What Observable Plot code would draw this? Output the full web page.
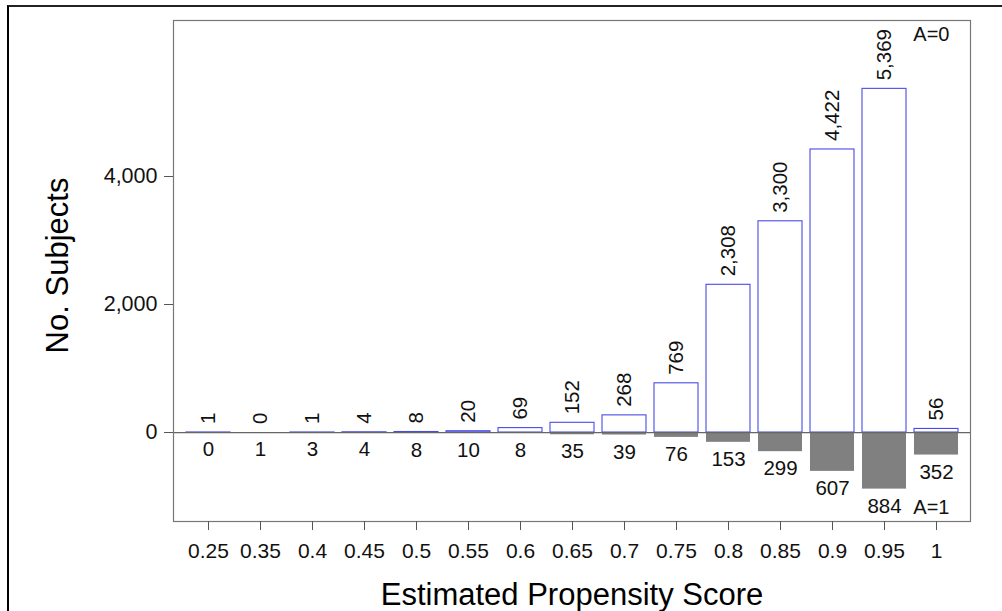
<!DOCTYPE html>
<html>
<head>
<meta charset="utf-8">
<script src="https://cdn.jsdelivr.net/npm/d3@7"></script>
<script src="https://cdn.jsdelivr.net/npm/@observablehq/plot@0.6"></script>
<style>
  html, body { margin: 0; padding: 0; background: #fff; }
  #wrap { position: relative; width: 1002px; height: 611px; overflow: hidden; }
  #border { position: absolute; left: 7px; top: 5px; width: 1100px; height: 700px;
            border-left: 2.5px solid #000; border-top: 2px solid #222; pointer-events: none; }
  #chart { position: absolute; left: 0; top: 0; }
</style>
</head>
<body>
<div id="wrap"><div id="chart"></div><div id="border"></div></div>
<script>
const bins = ["0.25","0.35","0.4","0.45","0.5","0.55","0.6","0.65","0.7","0.75","0.8","0.85","0.9","0.95","1"];
const countA0 = [1, 0, 1, 4, 8, 20, 69, 152, 268, 769, 2308, 3300, 4422, 5369, 56];
const countA1 = [0, 1, 3, 4, 8, 10, 8, 35, 39, 76, 153, 299, 607, 884, 352];
const yTicks = [0, 2000, 4000];

const data0 = bins.map((b, i) => ({bin: b, n: countA0[i]}));
const data1 = bins.map((b, i) => ({bin: b, n: countA1[i]}));
const fmt = d3.format(",");
const font = "Liberation Sans, Arial, Helvetica, sans-serif";

const chart = Plot.plot({
  width: 1002,
  height: 611,
  marginLeft: 173,
  marginRight: 32,
  marginTop: 20,
  marginBottom: 90,
  style: {fontFamily: font, background: "transparent", color: "#000"},
  x: {type: "band", domain: bins, paddingInner: 0.155, paddingOuter: 0.21},
  y: {domain: [-1390, 6437]},
  marks: [
    Plot.barY(data0, {x: "bin", y: "n", fill: "white", stroke: "#4a4ae8", strokeWidth: 1.1}),
    Plot.barY(data1, {x: "bin", y: d => -d.n, fill: "#808080"}),
    Plot.ruleY([0], {stroke: "#666", strokeWidth: 1.2}),
    Plot.frame({stroke: "#777", strokeWidth: 1.2}),
    Plot.text(data0, {x: "bin", y: "n", text: d => fmt(d.n), rotate: -90, textAnchor: "start",
      dy: -8.5, fontSize: 20.5, fill: "#111"}),
    Plot.text(data1, {x: "bin", y: d => -d.n, text: d => fmt(d.n), lineAnchor: "top",
      dy: 9, fontSize: 20.5, fill: "#111"}),
    Plot.text(["A=0"], {frameAnchor: "top-right", textAnchor: "end", lineAnchor: "top",
      dx: -21, dy: 6, fontSize: 20, fill: "#111"}),
    Plot.text(["A=1"], {frameAnchor: "bottom-right", textAnchor: "end", lineAnchor: "bottom",
      dx: -21, dy: -8, fontSize: 20, fill: "#111"}),
    Plot.axisX({tickSize: 9, tickPadding: 13, fontSize: 21, label: null, stroke: "#555", fill: "#111"}),
    Plot.axisY({ticks: yTicks, tickFormat: fmt, tickSize: 9, tickPadding: 7, fontSize: 21.5,
      label: null, stroke: "#555", fill: "#111"}),
    Plot.text(["Estimated Propensity Score"], {frameAnchor: "bottom", textAnchor: "middle", lineAnchor: "bottom",
      dy: 83, fontSize: 31, fill: "#000"}),
    Plot.text(["No. Subjects"], {frameAnchor: "left", textAnchor: "middle", rotate: -90, lineAnchor: "middle",
      dx: -115, dy: -5.5, fontSize: 31, fill: "#000"})
  ]
});
document.getElementById("chart").appendChild(chart);
</script>
</body>
</html>
